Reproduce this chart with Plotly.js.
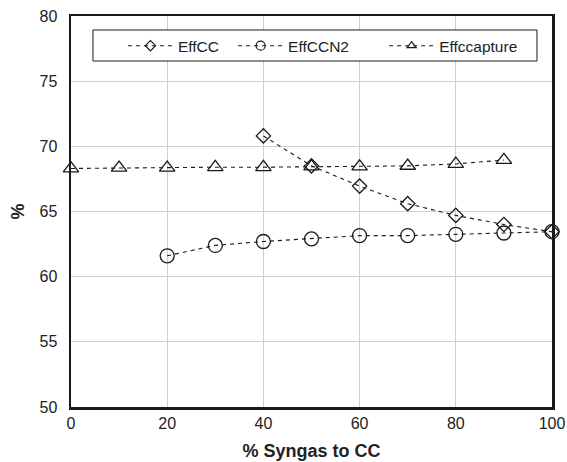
<!DOCTYPE html>
<html>
<head>
<meta charset="utf-8">
<script src="https://cdn.plot.ly/plotly-3.0.1.min.js"></script>
<style>
  html, body { margin: 0; padding: 0; background: #fff; }
  #chart { width: 567px; height: 462px; }
</style>
</head>
<body>
<div id="chart"></div>
<script>
// Efficiencies versus share of syngas sent to the combined cycle
const seriesNames = ['EffCC', 'EffCCN2', 'Effccapture'];

const xEffCC = [40, 50, 60, 70, 80, 90, 100];
const effCC = [70.8, 68.5, 66.95, 65.6, 64.7, 64.0, 63.45];

const xEffCCN2 = [20, 30, 40, 50, 60, 70, 80, 90, 100];
const effCCN2 = [61.6, 62.4, 62.7, 62.9, 63.15, 63.15, 63.25, 63.35, 63.45];

const xEffCapture = [0, 10, 20, 30, 40, 50, 60, 70, 80, 90];
const effCapture = [68.3, 68.35, 68.35, 68.4, 68.4, 68.45, 68.45, 68.5, 68.65, 68.95];

const xTicks = [0, 20, 40, 60, 80, 100];
const yTicks = [50, 55, 60, 65, 70, 75, 80];

const ink = '#1a1a1a';
const font = 'Liberation Sans, Arial, sans-serif';
const dashLine = { color: ink, width: 1.1, dash: '4px,4px' };

function series(name, x, y, symbol, size) {
  return {
    type: 'scatter',
    mode: 'lines+markers',
    name: name,
    x: x,
    y: y,
    showlegend: false,
    line: dashLine,
    marker: { symbol: symbol, size: size, color: ink, line: { color: ink, width: 1.3 } },
    cliponaxis: false
  };
}

// legend-only entries with smaller sample markers
function legendEntry(name, symbol, size, legendId) {
  return {
    type: 'scatter',
    mode: 'lines+markers',
    name: name,
    x: [null],
    y: [null],
    legend: legendId,
    showlegend: true,
    line: dashLine,
    marker: { symbol: symbol, size: size, color: ink, line: { color: ink, width: 1.2 } }
  };
}

const traces = [
  series(seriesNames[0], xEffCC, effCC, 'diamond-open', 11),
  series(seriesNames[1], xEffCCN2, effCCN2, 'circle-open', 14),
  series(seriesNames[2], xEffCapture, effCapture, 'triangle-up-open', 13.5),
  legendEntry(seriesNames[0], 'diamond-open', 8, 'legend'),
  legendEntry(seriesNames[1], 'circle-open', 9, 'legend2'),
  legendEntry(seriesNames[2], 'triangle-up-open', 8, 'legend3')
];

const axisCommon = {
  showline: true,
  linecolor: ink,
  linewidth: 2.5,
  mirror: true,
  showgrid: true,
  gridcolor: '#cfcfcf',
  gridwidth: 1,
  zeroline: false,
  ticks: '',
  tickfont: { family: font, size: 16, color: '#222' }
};

// one legend per series, placed side by side inside a common frame
function legendAt(xPaper) {
  return {
    x: xPaper,
    y: 0.923,
    xanchor: 'left',
    yanchor: 'middle',
    bgcolor: 'rgba(0,0,0,0)',
    borderwidth: 0,
    itemwidth: 45,
    font: { family: font, size: 15.5, color: '#222' }
  };
}

const layout = {
  width: 567,
  height: 462,
  margin: { l: 71, r: 15, t: 16, b: 55 },
  paper_bgcolor: '#fff',
  plot_bgcolor: '#fff',
  showlegend: true,
  xaxis: Object.assign({}, axisCommon, {
    range: [0, 100],
    tickvals: xTicks,
    ticktext: xTicks.map(String),
    title: { text: '<b>% Syngas to CC</b>', font: { family: font, size: 18, color: '#222' }, standoff: 14 }
  }),
  yaxis: Object.assign({}, axisCommon, {
    range: [50, 80],
    tickvals: yTicks,
    ticktext: yTicks.map(String),
    ticklabelstandoff: 8,
    title: { text: '<b>%</b>', font: { family: font, size: 18, color: '#222' }, standoff: 10 }
  }),
  legend: legendAt(0.108),
  legend2: legendAt(0.337),
  legend3: legendAt(0.651),
  shapes: [{
    type: 'rect',
    xref: 'paper', yref: 'paper',
    x0: 0.0457, x1: 0.9688,
    y0: 0.8849, y1: 0.9642,
    fillcolor: '#fff',
    line: { color: ink, width: 1 },
    layer: 'above'
  }]
};

Plotly.newPlot('chart', traces, layout, { displayModeBar: false, staticPlot: true });
</script>
</body>
</html>
